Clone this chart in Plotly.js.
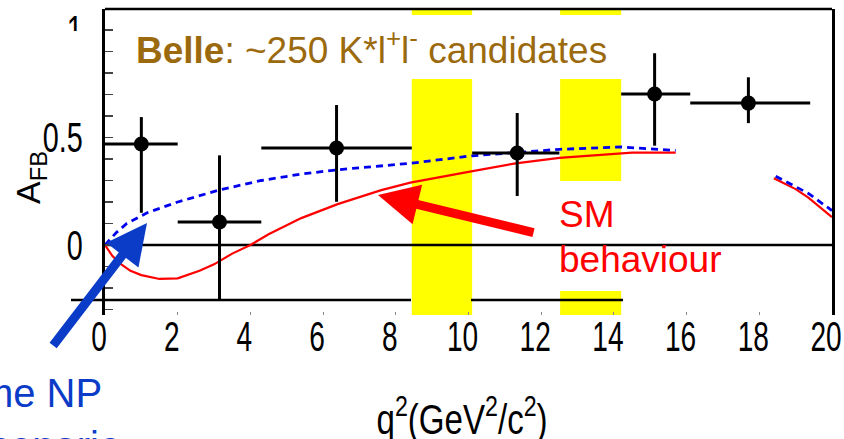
<!DOCTYPE html>
<html>
<head>
<meta charset="utf-8">
<script src="https://cdn.plot.ly/plotly-3.0.1.min.js"></script>
<style>html,body{margin:0;padding:0;background:#fff;}#chart{width:844px;height:439px;}</style>
</head>
<body>
<div id="chart"></div>
<script>
// ---- data ----
const smQ  = [0, 0.2, 0.4, 0.7, 1.0, 1.5, 2.0, 2.6, 3.0, 3.5, 4.0, 4.5, 5.4, 6.4, 7.6, 8.4, 10.0, 11.3, 12.5, 13.7, 14.5, 15.7, null, 18.4, 19.0, 19.35, 20.0];
const smA  = [0, -0.05, -0.084, -0.12, -0.14, -0.158, -0.155, -0.12, -0.09, -0.04, 0.0, 0.05, 0.125, 0.19, 0.255, 0.29, 0.34, 0.38, 0.405, 0.42, 0.43, 0.43, null, 0.31, 0.26, 0.22, 0.13];
const npQ  = [0, 0.3, 0.6, 1.16, 2.0, 3.15, 4.3, 5.4, 6.4, 8.4, 10.1, 12.5, 14.2, 15.7, null, 18.45, 19.35, 20.0];
const npA  = [0, 0.056, 0.10, 0.15, 0.20, 0.256, 0.30, 0.33, 0.35, 0.38, 0.415, 0.445, 0.456, 0.44, null, 0.32, 0.24, 0.16];
const binQ     = [1.0, 3.15, 6.37, 11.34, 15.12, 17.7];
const binQlo   = [1.0, 1.15, 2.07, 1.24, 0.92, 1.6];
const binQhi   = [1.0, 1.15, 2.07, 1.16, 0.98, 1.7];
const afb      = [0.47, 0.107, 0.451, 0.428, 0.702, 0.66];
const afbUp    = [0.125, 0.31, 0.20, 0.186, 0.19, 0.12];
const afbDown  = [0.32, 0.363, 0.25, 0.20, 0.24, 0.093];
const vetoBands = [[8.44, 10.1], [12.52, 14.2]];
const xTickVals = [0, 2, 4, 6, 8, 10, 12, 14, 16, 18, 20];
const xTickText = ['0','2','4','6','8','10','12','14','16','18','20'];
const yTickVals = [0, 0.5, 1];
const yTickText = ['0', '0.5', '1'];
const yMinorVals = [-0.3,-0.2,-0.1,0.1,0.2,0.3,0.4,0.6,0.7,0.8,0.9];

// ---- geometry helpers (pixel -> paper) ----
const L = 105, R = 832, T = 9, B = 315;
const px = x => (x - L) / (R - L);
const py = y => (B - y) / (B - T);

const txtFont = 'Liberation Sans, Arial, sans-serif';

const traces = [
  {x: smQ, y: smA, mode: 'lines', line: {color: '#ff0000', width: 2.2}, connectgaps: false, hoverinfo: 'skip'},
  {x: npQ, y: npA, mode: 'lines', line: {color: '#0000ee', width: 2.8, dash: '7px,5px'}, connectgaps: false, hoverinfo: 'skip'},
  {x: binQ, y: afb, mode: 'markers', marker: {color: '#000', size: 15},
   error_x: {type: 'data', symmetric: false, array: binQhi, arrayminus: binQlo, color: '#000', thickness: 3, width: 0},
   error_y: {type: 'data', symmetric: false, array: afbUp, arrayminus: afbDown, color: '#000', thickness: 3, width: 0}}
];

const shapes = [];
vetoBands.forEach(b => shapes.push({type: 'rect', xref: 'x', yref: 'paper', x0: b[0], x1: b[1], y0: 0, y1: 1,
  fillcolor: '#ffff00', line: {width: 0}, layer: 'below'}));
shapes.push({type: 'line', xref: 'x', yref: 'y', x0: 0, x1: 20, y0: 0, y1: 0, line: {color: '#000', width: 2.5}, layer: 'below'});
shapes.push({type: 'line', xref: 'paper', yref: 'paper', x0: px(71), x1: px(411), y0: py(300), y1: py(300), line: {color: '#000', width: 2.5}, layer: 'below'});
shapes.push({type: 'line', xref: 'paper', yref: 'paper', x0: px(471), x1: px(623), y0: py(300), y1: py(300), line: {color: '#000', width: 2.5}, layer: 'below'});
shapes.push({type: 'rect', xref: 'paper', yref: 'paper', x0: px(120), x1: px(626), y0: py(79), y1: py(15), fillcolor: '#fff', line: {width: 0}, layer: 'below'});
shapes.push({type: 'rect', xref: 'paper', yref: 'paper', x0: px(540), x1: px(743), y0: py(291), y1: py(181), fillcolor: '#fff', line: {width: 0}, layer: 'below'});
shapes.push({type: 'line', xref: 'paper', yref: 'paper', x0: 0, x1: 1, y0: 1, y1: 1, line: {color: '#000', width: 2.5}, layer: 'above'});
shapes.push({type: 'rect', xref: 'paper', yref: 'paper', x0: px(60), x1: px(101), y0: py(54), y1: py(31), fillcolor: '#fff', line: {width: 0}, layer: 'above'});

const annotations = [
  {xref: 'paper', yref: 'paper', x: px(371), y: py(47), xanchor: 'center', yanchor: 'middle', showarrow: false,
   text: '<b>Belle</b>: ~250 K*l<sup>+</sup>l<sup>-</sup> candidates', font: {family: txtFont, size: 37, color: '#9c6a0e'}},
  {xref: 'paper', yref: 'paper', x: px(557), y: py(214), xanchor: 'left', yanchor: 'middle', showarrow: false,
   text: 'SM', font: {family: txtFont, size: 37, color: '#ff0000'}},
  {xref: 'paper', yref: 'paper', x: px(557), y: py(259), xanchor: 'left', yanchor: 'middle', showarrow: false,
   text: 'behaviour', font: {family: txtFont, size: 37, color: '#ff0000'}},
  {xref: 'paper', yref: 'paper', x: px(104), y: py(393), xanchor: 'right', yanchor: 'middle', showarrow: false,
   text: 'Some NP', font: {family: txtFont, size: 40, color: '#0a3cc8'}},
  {xref: 'paper', yref: 'paper', x: px(123), y: py(446), xanchor: 'right', yanchor: 'middle', showarrow: false,
   text: 'scenario', font: {family: txtFont, size: 40, color: '#0a3cc8'}},
  {xref: 'paper', yref: 'paper', x: px(378), y: py(195), ax: 157, ay: 38, axref: 'pixel', ayref: 'pixel',
   showarrow: true, text: '', arrowhead: 2, arrowsize: 0.9, arrowwidth: 9, arrowcolor: '#ff0000', standoff: 0},
  {xref: 'paper', yref: 'paper', x: px(147), y: py(223), ax: -95, ay: 124, axref: 'pixel', ayref: 'pixel',
   showarrow: true, text: '', arrowhead: 2, arrowsize: 0.9, arrowwidth: 9, arrowcolor: '#0a3cc8', standoff: 0},
  {xref: 'paper', yref: 'paper', x: px(30), y: py(178), xanchor: 'center', yanchor: 'middle', showarrow: false, textangle: -90,
   text: 'A<sub>FB</sub>', font: {family: txtFont, size: 34, color: '#000'}},
  {xref: 'paper', yref: 'paper', x: px(462), y: py(416), xanchor: 'center', yanchor: 'middle', showarrow: false,
   text: 'q<sup>2</sup>(GeV<sup>2</sup>/c<sup>2</sup>)', font: {family: txtFont, size: 36, color: '#000'}}
];

const layout = {
  width: 844, height: 439,
  margin: {l: L, r: 844 - R, t: T, b: 439 - B, pad: 0},
  paper_bgcolor: '#fff', plot_bgcolor: '#fff',
  showlegend: false,
  xaxis: {range: [0, 20], showgrid: false, zeroline: false, showline: false,
    tickmode: 'array', tickvals: xTickVals, ticktext: xTickText,
    ticks: 'inside', ticklen: 3, tickwidth: 1, tickcolor: '#888',
    ticklabelshift: -6, ticklabelstandoff: 0, ticklabeloverflow: 'allow',
    tickfont: {family: txtFont, size: 36, color: '#000'}},
  yaxis: {range: [-0.3256, 1.0977], showgrid: false, zeroline: false,
    showline: true, linewidth: 3, linecolor: '#000', mirror: true,
    tickmode: 'array', tickvals: yTickVals, ticktext: yTickText,
    ticks: 'inside', ticklen: 8, tickwidth: 1.5, tickcolor: '#444',
    minor: {tickmode: 'array', tickvals: yMinorVals, ticks: 'inside', ticklen: 8, tickwidth: 1.5, tickcolor: '#444'},
    ticklabelstandoff: 12, ticklabeloverflow: 'allow',
    tickfont: {family: txtFont, size: 36, color: '#000'}},
  shapes: shapes,
  annotations: annotations
};

function squeeze(el, sx, sy, anchor, dy) {
  const bb = el.getBBox();
  const cx = anchor === 'right' ? bb.x + bb.width : bb.x + bb.width / 2;
  const cy = bb.y + bb.height / 2;
  const t = el.getAttribute('transform') || '';
  el.setAttribute('transform', t + ' translate(' + cx + ',' + (cy + (dy || 0)) + ') scale(' + sx + ',' + sy + ') translate(' + (-cx) + ',' + (-cy) + ')');
}

Plotly.newPlot('chart', traces, layout, {staticPlot: true, displayModeBar: false}).then(gd => {
  gd.querySelectorAll('.xtick text').forEach(el => squeeze(el, 0.78, 1.16, 'center', -3));
  gd.querySelectorAll('.ytick text').forEach(el => squeeze(el, 0.8, 1.16, 'right', 0));
  gd.querySelectorAll('.annotation-text').forEach(el => {
    const s = el.textContent;
    if (s.indexOf('GeV') >= 0) squeeze(el, 0.92, 1.16, 'center', 0);
    if (s === 'AFB') squeeze(el, 1.2, 1.0, 'center', 0);
  });
});
</script>
</body>
</html>
